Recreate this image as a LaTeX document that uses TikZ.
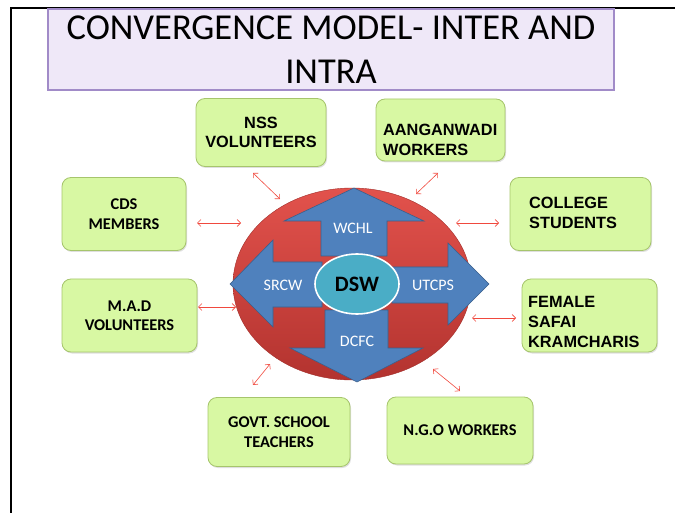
\documentclass[tikz,border=0pt]{standalone}
\usepackage{fontspec}
\setmainfont{Carlito}
\newfontfamily\arialfont{Liberation Sans}
\usetikzlibrary{shapes.geometric,shadows,arrows.meta}
\definecolor{boxgreen}{HTML}{D8F8A3}
\definecolor{boxline}{HTML}{A6C56C}
\definecolor{titlefill}{HTML}{EFE8F8}
\definecolor{titleline}{HTML}{A18BC8}
\definecolor{ringtop}{HTML}{E2524C}
\definecolor{ringbot}{HTML}{B3332F}
\definecolor{arrowblue}{HTML}{4F81BD}
\definecolor{arrowline}{HTML}{3A5F8C}
\definecolor{hubcyan}{HTML}{4AADC6}
\definecolor{linkred}{HTML}{F0493E}

\begin{document}
\begin{tikzpicture}[x=1pt,y=-1pt,
  box/.style={draw=boxline,fill=boxgreen,rounded corners=9pt,line width=0.8pt,
    drop shadow={shadow xshift=1pt,shadow yshift=-1.5pt,opacity=0.25}},
  boxtext/.style={font=\fontsize{16.4}{19.5}\selectfont\bfseries,align=center,inner sep=0pt},
  arialtext/.style={font=\arialfont\fontsize{16.3}{20}\selectfont\bfseries,inner sep=0pt},
  quad/.style={fill=arrowblue,draw=arrowline,line width=0.6pt,line join=miter},
  quadlabel/.style={text=white,font=\fontsize{16}{19}\selectfont},
  link/.style={linkred,line width=0.6pt,{Straight Barb[length=3.5pt,width=7pt]}-{Straight Barb[length=3.5pt,width=7pt]}}]
\useasboundingbox (0,0) rectangle (675,513);
\draw [line width=2pt] (11,513) -- (11,7.7) -- (675,7.7);

\node [draw=titleline,fill=titlefill,line width=1.2pt,minimum width=566pt,minimum height=81pt,
  align=center,font=\fontsize{36.5}{44}\selectfont,
  drop shadow={shadow xshift=-1.5pt,shadow yshift=-1.5pt,opacity=0.3}] (title) at (331,49.5)
  {CONVERGENCE MODEL- INTER AND\\INTRA};

\node [box,minimum width=130pt,minimum height=68pt,arialtext,align=center,font=\arialfont\fontsize{16.3}{19}\selectfont\bfseries] (nss) at (261,132.5) {NSS\\VOLUNTEERS};
\node [box,minimum width=129pt,minimum height=62pt] (aang) at (440.5,130) {};
\node [arialtext,anchor=west,align=left] (aang-t) at (383,140) {AANGANWADI\\WORKERS};
\node [box,minimum width=124pt,minimum height=73pt,boxtext] (cds) at (124,214) {CDS\\MEMBERS};
\node [box,minimum width=141pt,minimum height=73pt] (college) at (580.5,214) {};
\node [arialtext,anchor=west,align=left] (college-t) at (529,213) {COLLEGE\\STUDENTS};
\node [box,minimum width=135pt,minimum height=73pt,boxtext] (mad) at (129.5,315.5) {M.A.D\\VOLUNTEERS};
\node [box,minimum width=135pt,minimum height=73pt] (female) at (589.5,315.5) {};
\node [arialtext,anchor=west,align=left] (female-t) at (528,322) {FEMALE\\SAFAI\\KRAMCHARIS};
\node [box,minimum width=142pt,minimum height=69pt,boxtext] (govt) at (279,432) {GOVT. SCHOOL\\TEACHERS};
\node [box,minimum width=146pt,minimum height=67pt,boxtext] (ngo) at (460,430.5) {N.G.O WORKERS};

\shade [top color=ringtop,bottom color=ringbot,draw=ringbot!90!black,line width=0.4pt]
  (352,284) ellipse [x radius=119,y radius=96];

\draw [quad] (354,188) -- (424,221) -- (387,221) -- (387,256) -- (321,256) -- (321,221) -- (284,221) -- cycle;
\draw [quad] (230,284) -- (273,240) -- (273,262) -- (322,262) -- (322,307) -- (273,307) -- (273,327) -- cycle;
\draw [quad] (489,284) -- (448,243) -- (448,267) -- (392,267) -- (392,303) -- (448,303) -- (448,325) -- cycle;
\draw [quad] (357,382) -- (423,348) -- (388,348) -- (388,310) -- (325,310) -- (325,348) -- (290,348) -- cycle;

\node [ellipse,fill=hubcyan,draw=white,line width=1.6pt,minimum width=84pt,minimum height=60pt,
  font=\fontsize{22}{26}\selectfont\bfseries] (hub) at (357,284) {DSW};
\node [quadlabel] (wchl) at (353,228) {WCHL};
\node [quadlabel] (srcw) at (283,285) {SRCW};
\node [quadlabel] (utcps) at (433,285) {UTCPS};
\node [quadlabel] (dcfc) at (357,341) {DCFC};

\coordinate (nss-a) at (253,173);  \coordinate (nss-b) at (280,199);
\coordinate (cds-a) at (197,223);  \coordinate (cds-b) at (241,223);
\coordinate (aang-a) at (438,173); \coordinate (aang-b) at (416,194);
\coordinate (col-a) at (499,223);  \coordinate (col-b) at (456,223);
\coordinate (mad-a) at (198,307);  \coordinate (mad-b) at (236,307);
\coordinate (govt-a) at (253,385); \coordinate (govt-b) at (270,364);
\coordinate (fem-a) at (516,318);  \coordinate (fem-b) at (472,318);
\coordinate (ngo-a) at (460,391);  \coordinate (ngo-b) at (433,369);
\foreach \k in {nss,cds,aang,col,mad,govt,fem,ngo}
  \draw [link] (\k-a) -- (\k-b);
\end{tikzpicture}
\end{document}
